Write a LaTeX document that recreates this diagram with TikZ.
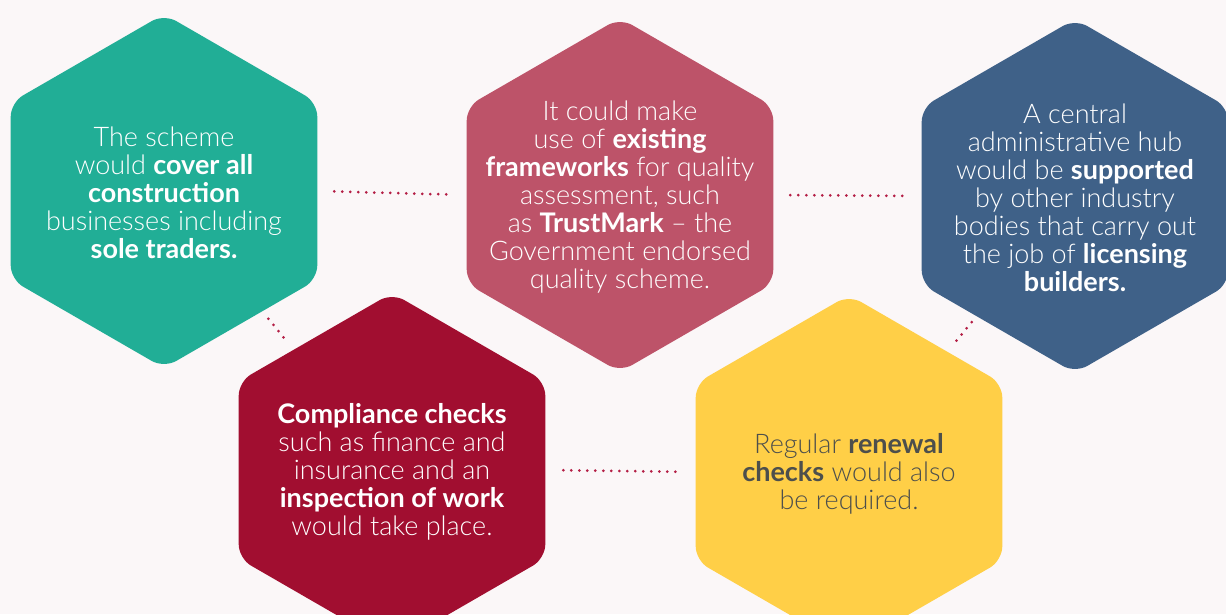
\documentclass[tikz,border=0pt]{standalone}
\usepackage{fontspec}
\setmainfont{Lato}[UprightFont=* Light,BoldFont=* Bold]
\usetikzlibrary{shapes.geometric}

\definecolor{bgpaper}{HTML}{FBF7F8}
\definecolor{hexteal}{HTML}{21AE96}
\definecolor{hexrose}{HTML}{BD5369}
\definecolor{hexnavy}{HTML}{3F6188}
\definecolor{hexwine}{HTML}{A10E30}
\definecolor{hexsun}{HTML}{FFCF47}
\definecolor{dotred}{HTML}{B41E45}
\definecolor{inkgrey}{HTML}{4D4F4C}

\begin{document}
\begin{tikzpicture}[x=1pt,y=-1pt,
  hexa/.style={regular polygon,regular polygon sides=6,regular polygon rotate=30,
    minimum size=354pt,inner sep=0pt,outer sep=0pt,rounded corners=14pt},
  blurb/.style={align=center,font=\fontsize{27}{28}\selectfont,text=white,yshift=-2pt},
  dots/.style={dotred,line width=3pt,line cap=round,dash pattern=on 0pt off 8pt}]
\useasboundingbox (0,0) rectangle (1226,614);
\fill [bgpaper] (0,0) rectangle (1226,614);
\clip (0,0) rectangle (1226,614);
\node [hexa,fill=hexteal] (scheme) at (164,191) {};
\node [hexa,fill=hexrose] (frameworks) at (620,195) {};
\node [hexa,fill=hexnavy] (hub) at (1075,196) {};
\node [hexa,fill=hexwine] (compliance) at (392,470) {};
\node [hexa,fill=hexsun] (renewal) at (849,472) {};
\node [blurb] (schemetext) at (scheme.center)
  {The scheme\\would \textbf{cover all}\\\textbf{construction}\\businesses including\\\textbf{sole traders.}};
\node [blurb] (frameworkstext) at (frameworks.center)
  {It could make\\use of \textbf{existing}\\\textbf{frameworks} for quality\\assessment, such\\as \textbf{TrustMark} – the\\Government endorsed\\quality scheme.};
\node [blurb] (hubtext) at (hub.center)
  {A central\\administrative hub\\would be \textbf{supported}\\by other industry\\bodies that carry out\\the job of \textbf{licensing}\\\textbf{builders.}};
\node [blurb] (compliancetext) at (compliance.center)
  {\textbf{Compliance checks}\\such as finance and\\insurance and an\\\textbf{inspection of work}\\would take place.};
\node [blurb,text=inkgrey] (renewaltext) at (renewal.center)
  {Regular \textbf{renewal}\\\textbf{checks} would also\\be required.};
\draw [dots,shorten <=17pt,shorten >=16pt] (scheme.east) -- (frameworks.west);
\draw [dots,shorten <=17pt,shorten >=16pt] (frameworks.east) -- (hub.west);
\draw [dots,shorten <=18pt,shorten >=18pt] (compliance.east) -- (renewal.west);
\draw [dots,shorten <=165pt,shorten >=164pt] (scheme.center) -- (compliance.center);
\draw [dots,shorten <=163pt,shorten >=164pt] (hub.center) -- (renewal.center);
\end{tikzpicture}
\end{document}
